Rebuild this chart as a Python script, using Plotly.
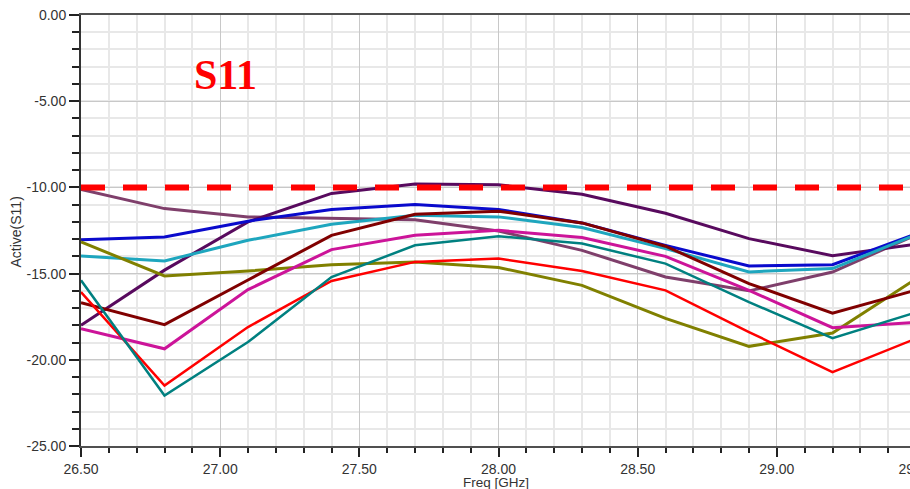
import plotly.graph_objects as go

freq = [26.5, 26.8, 27.1, 27.4, 27.7, 28.0, 28.3, 28.6, 28.9, 29.2, 29.5]

s_purple = [-18.0, -14.8, -12.0, -10.35, -9.8, -9.85, -10.4, -11.5, -12.97, -13.96, -13.3]
s_blue = [-13.03, -12.87, -11.96, -11.28, -10.99, -11.28, -12.06, -13.36, -14.56, -14.48, -12.7]
s_cyan = [-13.98, -14.27, -13.07, -12.14, -11.61, -11.71, -12.33, -13.55, -14.9, -14.71, -12.75]
s_olive = [-13.16, -15.14, -14.85, -14.48, -14.32, -14.65, -15.68, -17.6, -19.22, -18.45, -15.3]
s_maroon = [-16.69, -17.96, -15.37, -12.78, -11.56, -11.38, -12.06, -13.41, -15.58, -17.29, -15.96]
s_magenta = [-18.19, -19.36, -15.93, -13.61, -12.78, -12.49, -12.91, -14.0, -15.97, -18.14, -17.83]
s_red = [-16.07, -21.49, -18.1, -15.43, -14.32, -14.13, -14.85, -15.97, -18.39, -20.71, -18.77]
s_teal = [-15.39, -22.07, -18.97, -15.2, -13.36, -12.83, -13.26, -14.42, -16.65, -18.74, -17.25]
s_plum = [-10.12, -11.23, -11.71, -11.81, -11.87, -12.53, -13.65, -15.2, -16.0, -14.91, -12.76]

threshold = [-10.0, -10.0]
threshold_x = [26.5, 29.5]

y_tickvals = [0, -5, -10, -15, -20, -25]
y_ticktext = ["0.00", "-5.00", "-10.00", "-15.00", "-20.00", "-25.00"]

series = [
    ("s_plum", s_plum, "#7F3F6B", 3),
    ("s_purple", s_purple, "#580A5E", 3),
    ("s_blue", s_blue, "#0A0ACC", 3),
    ("s_cyan", s_cyan, "#1EA6BE", 3),
    ("s_olive", s_olive, "#808000", 3),
    ("s_maroon", s_maroon, "#800000", 3),
    ("s_magenta", s_magenta, "#CC1499", 3),
    ("s_red", s_red, "#FF0000", 2.5),
    ("s_teal", s_teal, "#008080", 2.5),
]

fig = go.Figure()
for name, ys, color, w in series:
    fig.add_trace(go.Scatter(x=freq, y=ys, mode="lines", name=name,
                             line=dict(color=color, width=w)))

fig.add_trace(go.Scatter(x=threshold_x, y=threshold, mode="lines", name="limit",
                         line=dict(color="#FF0000", width=6, dash="24px,18px")))

tick_font = dict(family="Liberation Sans, Arial, sans-serif", size=14, color="#333333")

fig.update_layout(
    width=916, height=489,
    margin=dict(l=81, r=0, t=15, b=43),
    paper_bgcolor="white", plot_bgcolor="white",
    showlegend=False,
    xaxis=dict(
        range=[26.5, 29.5], tick0=26.5, dtick=0.5, tickformat=".2f",
        ticklabeloverflow="allow", automargin=False,
        showgrid=True, gridcolor="#C8C8C8", gridwidth=1,
        ticks="outside", ticklen=9, tickwidth=1.5, tickcolor="#222222",
        showline=True, linecolor="#505050", linewidth=2, mirror=True,
        tickfont=tick_font, zeroline=False,
        minor=dict(dtick=0.1, tick0=26.5, ticks="outside", ticklen=5, tickwidth=1.5,
                   tickcolor="#222222", showgrid=True, gridcolor="#E8E8E8", gridwidth=1.5),
    ),
    yaxis=dict(
        range=[-25, 0], tickmode="array", tickvals=y_tickvals, ticktext=y_ticktext,
        automargin=False,
        showgrid=True, gridcolor="#C8C8C8", gridwidth=1,
        ticks="outside", ticklen=10, tickwidth=1.5, tickcolor="#222222",
        showline=True, linecolor="#333333", linewidth=2, mirror=True,
        tickfont=tick_font, zeroline=False,
        minor=dict(dtick=1, tick0=0, ticks="outside", ticklen=7, tickwidth=1.5,
                   tickcolor="#222222", showgrid=True, gridcolor="#E8E8E8", gridwidth=1.5),
    ),
    annotations=[
        dict(text="<b>S11</b>", xref="paper", yref="paper", x=0, y=1, xanchor="center",
             yanchor="middle", xshift=225 - 81, yshift=-60, showarrow=False,
             font=dict(family="Liberation Serif, Times New Roman, serif", size=42, color="#FF0000")),
        dict(text="Active(S11)", xref="paper", yref="paper", x=0, y=0.5, xanchor="center",
             yanchor="middle", xshift=15 - 81, yshift=-2, textangle=-90, showarrow=False,
             font=dict(family="Liberation Sans, Arial, sans-serif", size=14, color="#333333")),
        dict(text="Freq [GHz]", xref="paper", yref="paper", x=0.5, y=0, xanchor="center",
             yanchor="middle", yshift=-36, xshift=-3, showarrow=False,
             font=dict(family="Liberation Sans, Arial, sans-serif", size=13.5, color="#333333")),
    ],
)

fig.write_html("out.html", post_script="document.documentElement.style.overflow='hidden';document.body.style.overflow='hidden';document.body.style.margin='0';")
